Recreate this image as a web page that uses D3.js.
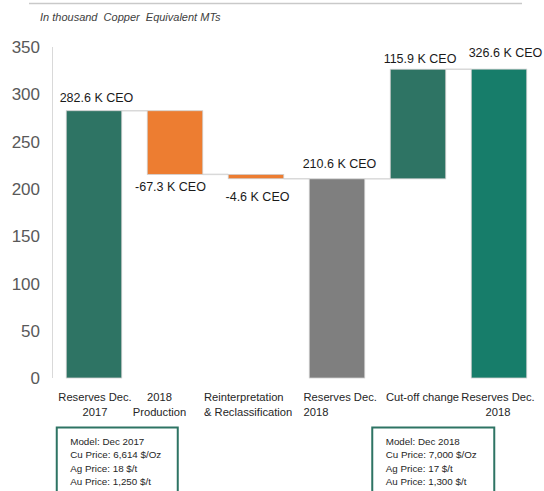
<!DOCTYPE html>
<html>
<head>
<meta charset="utf-8">
<script src="https://cdn.jsdelivr.net/npm/d3@7"></script>
<style>
  html, body { margin: 0; padding: 0; background: #fff; }
  svg { display: block; font-family: "Liberation Sans", Arial, sans-serif; }
</style>
</head>
<body>
<svg id="chart" width="544" height="491"></svg>
<script>
// ---- data ----
const categories = ["Reserves Dec.\n2017", "2018\nProduction", "Reinterpretation\n& Reclassification", "Reserves Dec.\n2018", "Cut-off change", "Reserves Dec.\n2018"];
const values = [282.6, -67.3, -4.6, 210.6, 115.9, 326.6];
const barKinds = ["total", "delta", "delta", "total", "delta", "total"];
const yTicks = [0, 50, 100, 150, 200, 250, 300, 350];
const subtitle = "In thousand  Copper  Equivalent MTs";
const noteLeft = ["Model: Dec 2017", "Cu Price: 6,614 $/Oz", "Ag Price: 18 $/t", "Au Price: 1,250 $/t"];
const noteRight = ["Model: Dec 2018", "Cu Price: 7,000 $/Oz", "Ag Price: 17 $/t", "Au Price: 1,300 $/t"];

// ---- styles / layout ----
const barColors = ["#2e7464", "#ed7d31", "#ed7d31", "#7f7f7f", "#2e7464", "#177d6a"];
const svg = d3.select("#chart");

const x = d3.scaleBand().domain(d3.range(categories.length)).range([52, 541])
  .paddingInner(0.315).paddingOuter(0.176);
const y = d3.scaleLinear().domain([0, 350]).range([378, 47]);

// waterfall computation
let running = 0;
const bars = values.map((v, i) => {
  let start, end;
  if (barKinds[i] === "total") { start = 0; end = v; running = v; }
  else { start = running; end = running + v; running = end; }
  return { i, v, start, end, lo: Math.min(start, end), hi: Math.max(start, end) };
});

// top rule
svg.append("line").attr("x1", 29).attr("x2", 522).attr("y1", 3.5).attr("y2", 3.5)
  .attr("stroke", "#c9c9c9").attr("stroke-width", 1.5);

// subtitle
svg.append("text").attr("x", 40).attr("y", 21).attr("font-size", 11)
  .attr("font-style", "italic").attr("fill", "#404040")
  .style("white-space", "pre").text(subtitle);

// y axis line
svg.append("line").attr("x1", 52.5).attr("x2", 52.5).attr("y1", y(350)).attr("y2", y(0))
  .attr("stroke", "#d9d9d9").attr("stroke-width", 1);

// y tick labels
svg.append("g").selectAll("text").data(yTicks).join("text")
  .attr("x", 40).attr("y", d => y(d)).attr("dy", "0.36em")
  .attr("text-anchor", "end").attr("font-size", 17).attr("fill", "#595959")
  .text(d => d);

// connectors
svg.append("g").selectAll("line").data(bars.slice(0, -1)).join("line")
  .attr("x1", d => x(d.i) + x.bandwidth())
  .attr("x2", d => x(d.i + 1))
  .attr("y1", d => y(d.end)).attr("y2", d => y(d.end))
  .attr("stroke", "#d9d9d9").attr("stroke-width", 1.5);

// bars
svg.append("g").selectAll("rect").data(bars).join("rect")
  .attr("x", d => x(d.i))
  .attr("width", x.bandwidth())
  .attr("y", d => y(d.hi))
  .attr("height", d => Math.max(1, y(d.lo) - y(d.hi)))
  .attr("fill", d => barColors[d.i])
  .attr("stroke", "#cfcfcf").attr("stroke-width", 0.8);

// value labels
const labelDx = [2.5, -4.5, 1.5, 2.5, 2, 6.5];
const labelDy = [-9, 17, 22, -11, -6.5, -12];
svg.append("g").selectAll("text").data(bars).join("text")
  .attr("x", d => x(d.i) + x.bandwidth() / 2 + labelDx[d.i])
  .attr("y", d => (d.v < 0 ? y(d.lo) : y(d.hi)) + labelDy[d.i])
  .attr("text-anchor", "middle").attr("font-size", 12.5).attr("fill", "#1a1a1a")
  .text(d => d.v.toFixed(1) + " K CEO");

// category labels
const catAnchor = ["middle", "middle", "start", "start", "middle", "middle"];
const catDx = [1, -15.5, -52, -33.5, 4.5, -1];
const catG = svg.append("g");
categories.forEach((c, i) => {
  const cx = x(i) + x.bandwidth() / 2 + catDx[i];
  const t = catG.append("text")
    .attr("x", cx)
    .attr("y", 401)
    .attr("text-anchor", catAnchor[i])
    .attr("font-size", 11.2).attr("fill", "#262626");
  c.split("\n").forEach((line, k) => {
    t.append("tspan").attr("x", cx)
      .attr("dy", k === 0 ? 0 : 14.5).text(line);
  });
});

// note boxes
function noteBox(lines, bx, by, bw) {
  const g = svg.append("g");
  g.append("rect").attr("x", bx).attr("y", by).attr("width", bw).attr("height", 90)
    .attr("fill", "#fff").attr("stroke", "#2e7464").attr("stroke-width", 2);
  g.selectAll("text").data(lines).join("text")
    .attr("x", bx + 13.5).attr("y", (d, k) => by + 17 + k * 13.5)
    .attr("font-size", 9.8).attr("fill", "#262626").text(d => d);
}
noteBox(noteLeft, x(0) - 9.5, 427.5, 121);
noteBox(noteRight, x(4) - 18, 427.5, 122);
</script>
</body>
</html>
